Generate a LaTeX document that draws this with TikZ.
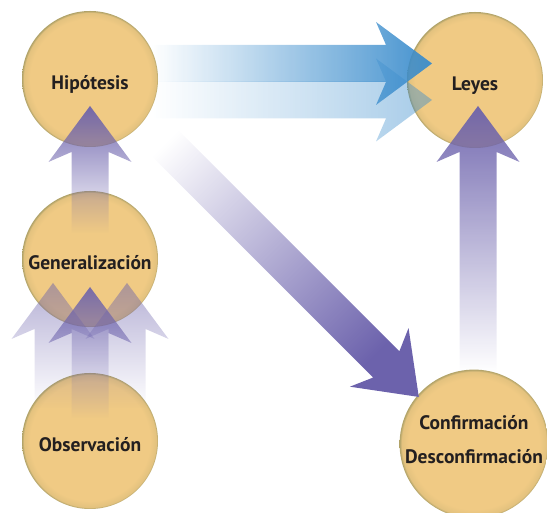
\documentclass[tikz,border=0pt]{standalone}
\usepackage{fontspec}
\setmainfont{PT Sans}
\usetikzlibrary{calc,fadings}

\definecolor{disco}{RGB}{240,202,132}
\definecolor{borde}{RGB}{176,162,104}
\definecolor{lila}{RGB}{108,98,172}
\definecolor{azul}{RGB}{58,140,204}
\definecolor{texto}{RGB}{35,31,32}

\pgfdeclareradialshading{bola}{\pgfpoint{0bp}{0bp}}{color(0bp)=(disco); color(22bp)=(disco); color(24.3bp)=(disco!80!borde); color(25bp)=(borde); color(50bp)=(borde)}
\tikzfading[name=fadeup, top color=transparent!0, middle color=transparent!30, bottom color=transparent!100]
\tikzfading[name=faderight, left color=transparent!100, middle color=transparent!55, right color=transparent!0]

\tikzset{
    %Define style for circles
    punkt/.style={
           circle,
           shade, shading=bola,
           minimum size=136pt,
           inner sep=0pt,
           font=\bfseries\fontsize{19.5}{21}\selectfont,
           text=texto,
           align=center},
    %one line of text
    eins/.style={
           text height=21pt,
           text depth=0pt},
    % Define arrow styles
    pilup/.style={
           fill=lila,
           path fading=fadeup},
    pilright/.style={
           fill=azul,
           path fading=faderight},
    pildiag/.style={
           fill=lila,
           path fading=faderight,
           fading angle=-45}
}

% fat arrow from #2 to #3
\newcommand{\pil}[3][]{%
  \fill[#1] ($(#2)!18.5pt!90:(#3)$)
     -- ($(#3)!46pt!(#2)!18.5pt!90:(#3)$)
     -- ($(#3)!56pt!(#2)!41.5pt!90:(#3)$)
     -- (#3)
     -- ($(#3)!56pt!(#2)!41.5pt!-90:(#3)$)
     -- ($(#3)!46pt!(#2)!18.5pt!-90:(#3)$)
     -- ($(#2)!18.5pt!-90:(#3)$) -- cycle;}

\begin{document}
\begin{tikzpicture}[x=1pt,y=1pt]
\useasboundingbox (0,0) rectangle (547,513);
\node[punkt,eins](1) at (90,434){Hipótesis};
\node[punkt,eins](2) at (90,254){Generalización};
\node[punkt,eins](3) at (90,72){Observación};
\node[punkt,eins](4) at (475,433){Leyes};
\node[punkt, minimum size=142pt, text depth=9pt](5) at (474,69){Confirmación\\[13pt]Desconfirmación};
% ends of the arrows
\coordinate (t1) at ($(2)+(0,26)$);
\coordinate (h1) at ($(1)+(0,-27)$);
\coordinate (t2) at ($(3)+(0,23)$);
\coordinate (h2) at ($(2)+(0,-28)$);
\coordinate (t3) at ($(3)+(-37,33)$);
\coordinate (h3) at ($(2)+(-37,-24)$);
\coordinate (t4) at ($(3)+(37,33)$);
\coordinate (h4) at ($(2)+(37,-24)$);
\coordinate (t5) at ($(1)+(45,-34)$);
\coordinate (h5) at ($(5)+(-55,47)$);
\coordinate (t6) at ($(5)+(4,72)$);
\coordinate (h6) at ($(4)+(3,-26)$);
\coordinate (t7) at ($(1)+(62,15.5)$);
\coordinate (h7) at ($(4)+(-43,16.5)$);
\coordinate (t8) at ($(1)+(62,-21)$);
\coordinate (h8) at ($(4)+(-43,-20)$);
\pil[pilright, fill opacity=0.45]{t8}{h8}
\pil[pilright, fill opacity=0.95]{t7}{h7}
\pil[pildiag]{t5}{h5}
\pil[pilup, fill opacity=0.95]{t6}{h6}
\pil[pilup, fill opacity=0.95]{t1}{h1}
\pil[pilup, fill opacity=0.5]{t3}{h3}
\pil[pilup, fill opacity=0.5]{t4}{h4}
\pil[pilup, fill opacity=0.9]{t2}{h2}
\end{tikzpicture}
\end{document}
